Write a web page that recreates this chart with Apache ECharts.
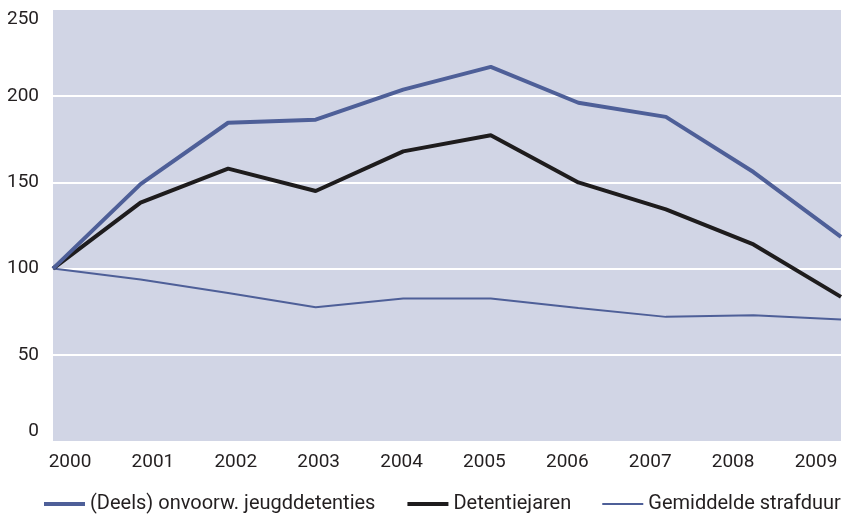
<!DOCTYPE html>
<html>
<head>
<meta charset="utf-8">
<script src="https://cdn.jsdelivr.net/npm/echarts@6/dist/echarts.min.js"></script>
<style>
html,body{margin:0;padding:0;background:#fff;}
#chart{width:854px;height:514px;}
</style>
</head>
<body>
<div id="chart"></div>
<script>
const years = ['2000','2001','2002','2003','2004','2005','2006','2007','2008','2009'];
const jeugddetenties = [100, 149, 184.6, 186.4, 203.8, 217, 196.2, 188, 156, 118.4];
const detentiejaren = [100, 138.3, 158, 145, 168, 177.3, 150, 134.4, 114, 83.6];
const strafduur = [100, 93.7, 85.9, 77.6, 82.7, 82.7, 77.2, 72, 73, 70.5];
const seriesNames = ['(Deels) onvoorw. jeugddetenties', 'Detentiejaren', 'Gemiddelde strafduur'];

const textColor = '#231f20';
const font = 'Roboto';
const blue = '#4e5f98';
const black = '#1e1c1d';
const chart = echarts.init(document.getElementById('chart'), null, {renderer: 'canvas'});
chart.setOption({
  animation: false,
  backgroundColor: '#ffffff',
  textStyle: {fontFamily: font},
  legend: {
    left: 37, top: 489,
    itemWidth: 41, itemHeight: 4, itemGap: 30,
    itemStyle: {opacity: 0},
    textStyle: {fontFamily: font, fontSize: 20, color: textColor},
    data: [
      {name: seriesNames[0], lineStyle: {width: 4, color: blue}},
      {name: seriesNames[1], lineStyle: {width: 4, color: black}},
      {name: seriesNames[2], lineStyle: {width: 2, color: blue}}
    ]
  },
  grid: [
    {left: 53, right: 13, top: 10, bottom: 73, show: true, backgroundColor: '#d1d5e5', borderWidth: 0},
    {left: 70, right: 38, top: 10, bottom: 73, show: false}
  ],
  xAxis: [
    {type: 'category', gridIndex: 0, data: years, boundaryGap: false,
     axisLine: {show: false}, axisTick: {show: false}, axisLabel: {show: false}, splitLine: {show: false}},
    {type: 'category', gridIndex: 1, data: years, boundaryGap: false,
     axisLine: {show: false}, axisTick: {show: false}, splitLine: {show: false},
     axisLabel: {fontFamily: font, fontSize: 19, color: textColor, margin: 12}}
  ],
  yAxis: [
    {type: 'value', gridIndex: 0, min: 0, max: 250, interval: 50,
     axisLine: {show: false}, axisTick: {show: false},
     axisLabel: {fontFamily: font, fontSize: 19, color: textColor, margin: 14,
       verticalAlignMinLabel: 'bottom', verticalAlignMaxLabel: 'top'},
     splitLine: {show: true, showMinLine: false, showMaxLine: false, lineStyle: {color: '#ffffff', width: 2}}},
    {type: 'value', gridIndex: 1, min: 0, max: 250, show: false}
  ],
  series: [
    {name: seriesNames[2], type: 'line', xAxisIndex: 0, yAxisIndex: 0, data: strafduur,
     symbol: 'none', color: blue, lineStyle: {width: 2, color: blue}, z: 2},
    {name: seriesNames[1], type: 'line', xAxisIndex: 0, yAxisIndex: 0, data: detentiejaren,
     symbol: 'none', color: black, lineStyle: {width: 4, color: black}, z: 3},
    {name: seriesNames[0], type: 'line', xAxisIndex: 0, yAxisIndex: 0, data: jeugddetenties,
     symbol: 'none', color: blue, lineStyle: {width: 4, color: blue}, z: 4}
  ]
});
</script>
</body>
</html>
